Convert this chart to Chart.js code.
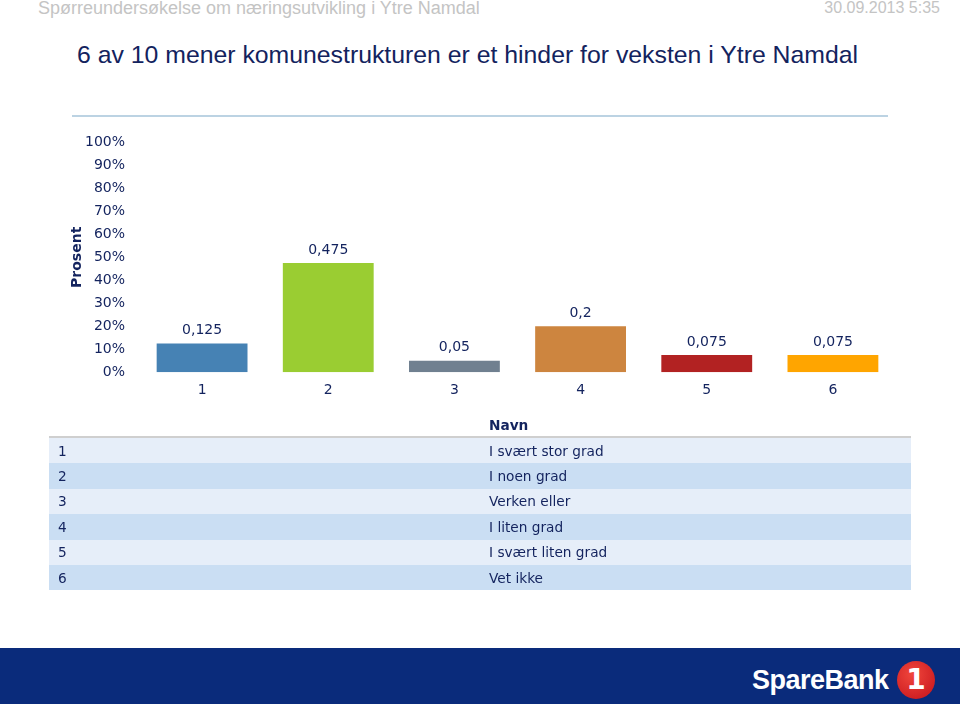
<!DOCTYPE html>
<html>
<head>
<meta charset="utf-8">
<script src="https://cdn.jsdelivr.net/npm/chart.js@4/dist/chart.umd.min.js"></script>
<style>
  body { margin: 0; width: 960px; height: 704px; position: relative; background: #fff; overflow: hidden; font-family: "Liberation Sans", Arial, sans-serif; }
  .top { position: absolute; top: -1px; color: #c4c4c4; line-height: 18px; white-space: nowrap; }
  #title { position: absolute; left: 77px; top: 41px; font-size: 24.8px; color: #13235e; white-space: nowrap; }
  #sep { position: absolute; left: 72px; top: 115px; width: 816px; height: 2px; background: #bcd3e3; }
  #wrap { position: absolute; left: 0; top: 120px; width: 960px; height: 296px; }
  table { position: absolute; left: 49px; top: 414px; width: 862px; border-collapse: collapse; font-family: "DejaVu Sans", Verdana, sans-serif; font-size: 13.7px; color: #13235e; }
  th { text-align: left; font-weight: bold; height: 22px; border-bottom: 2px solid #cfcfcf; padding: 0; }
  td { height: 25.4px; padding: 0; }
  td.c1 { padding-left: 9px; width: 431px; }
  tr.a td { background: #e6eef9; }
  tr.b td { background: #cadef3; }
  #foot { position: absolute; left: 0; top: 648px; width: 960px; height: 56px; background: #0a2b7b; }
  #logo { position: absolute; left: 752px; top: 665px; font-family: "Liberation Sans", Arial, sans-serif; font-size: 27px; font-weight: bold; color: #fff; letter-spacing: -0.5px; }
  #one { position: absolute; left: 897px; top: 661px; width: 38px; height: 38px; border-radius: 50%; background: radial-gradient(circle at 40% 35%, #f0463c, #c4121a); color: #fff; font: bold 28px "DejaVu Sans", sans-serif; text-align: center; line-height: 38px; }
</style>
</head>
<body>
<div class="top" style="left:38px; font-size:18px;">Spørreundersøkelse om næringsutvikling i Ytre Namdal</div>
<div class="top" style="right:20px; font-size:16px;">30.09.2013 5:35</div>
<div id="title">6 av 10 mener komunestrukturen er et hinder for veksten i Ytre Namdal</div>
<div id="sep"></div>
<div id="wrap"><canvas id="myChart"></canvas></div>
<table id="tbl"></table>
<div id="foot"></div>
<div id="logo">SpareBank</div>
<div id="one">1</div>
<script>
(() => {
  'use strict'

  const categories = ['1', '2', '3', '4', '5', '6']
  const values = [0.125, 0.475, 0.05, 0.2, 0.075, 0.075]
  const barColors = ['#4682b4', '#9acd32', '#708090', '#cd853f', '#b22222', '#ffa500']
  const names = ['I svært stor grad', 'I noen grad', 'Verken eller', 'I liten grad', 'I svært liten grad', 'Vet ikke']

  const navy = '#13235e'

  // tabell under grafen
  const tbl = document.getElementById('tbl')
  let html = '<tr><th></th><th>Navn</th></tr>'
  categories.forEach((c, i) => {
    html += '<tr class="' + (i % 2 ? 'b' : 'a') + '"><td class="c1">' + c + '</td><td>' + names[i] + '</td></tr>'
  })
  tbl.innerHTML = html

  // verdier over søylene
  const valueLabels = {
    id: 'valueLabels',
    afterDatasetsDraw (chart) {
      const ctx = chart.ctx
      ctx.save()
      ctx.font = '14px "DejaVu Sans", Verdana, sans-serif'
      ctx.fillStyle = navy
      ctx.textAlign = 'center'
      ctx.textBaseline = 'bottom'
      chart.getDatasetMeta(0).data.forEach((bar, i) => {
        ctx.fillText(String(values[i]).replace('.', ','), bar.x, bar.y - 6)
      })
      ctx.restore()
    }
  }

  const ctx = document.getElementById('myChart')

  new Chart(ctx, {
    type: 'bar',
    data: {
      labels: categories,
      datasets: [{
        data: values,
        backgroundColor: barColors,
        borderWidth: 0,
        barPercentage: 0.72,
        categoryPercentage: 1
      }]
    },
    options: {
      responsive: true,
      maintainAspectRatio: false,
      animation: false,
      layout: { padding: { left: 69, right: 64, top: 20, bottom: 7 } },
      plugins: {
        legend: { display: false },
        tooltip: { enabled: false }
      },
      scales: {
        x: {
          grid: { display: false, drawTicks: false },
          border: { display: false },
          ticks: { color: navy, padding: 10, font: { family: '"DejaVu Sans", Verdana, sans-serif', size: 14 } }
        },
        y: {
          min: 0,
          max: 1,
          grid: { display: false, drawTicks: false },
          border: { display: false },
          afterFit: (scale) => { scale.width = 70 },
          title: {
            display: true,
            text: 'Prosent',
            color: navy,
            padding: 0,
            font: { family: '"DejaVu Sans", Verdana, sans-serif', size: 14, weight: 'bold' }
          },
          ticks: {
            stepSize: 0.1,
            color: navy,
            padding: 14,
            font: { family: '"DejaVu Sans", Verdana, sans-serif', size: 14 },
            callback: (v) => Math.round(v * 100) + '%'
          }
        }
      }
    },
    plugins: [valueLabels]
  })
})()
</script>
</body>
</html>
